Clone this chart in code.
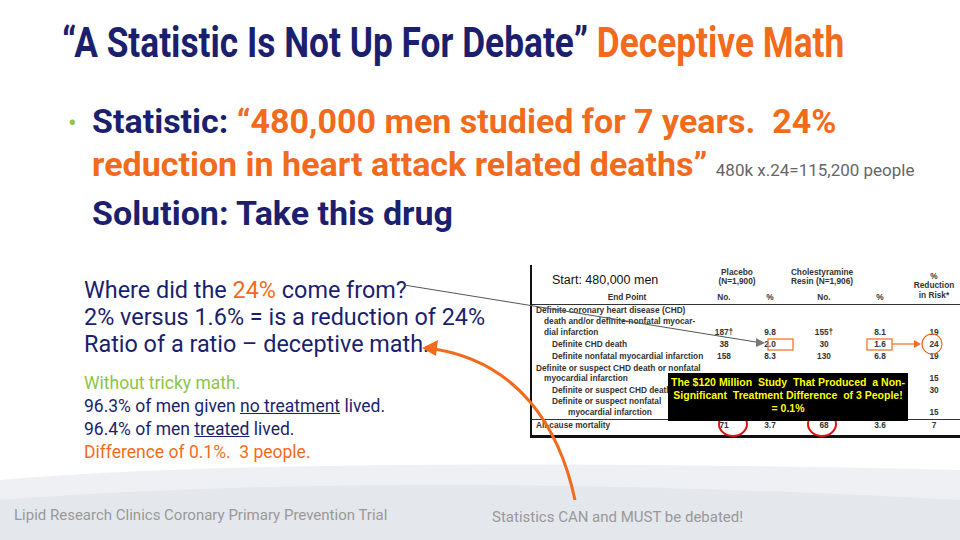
<!DOCTYPE html>
<html><head><meta charset="utf-8">
<script src="https://cdn.jsdelivr.net/npm/chart.js"></script>
<style>
body{margin:0;width:960px;height:540px;overflow:hidden;background:#fff;font-family:"Roboto",sans-serif;position:relative}
.a{position:absolute;white-space:nowrap}
.navy{color:#1b1f6e}.org{color:#f26b1d}.grn{color:#8dc63f}
#tbl{position:absolute;left:530px;top:265px;width:428px;height:170px;border-left:2px solid #111;border-right:2px solid #111;border-bottom:3px solid #111;font-family:"Liberation Sans",Arial,sans-serif;color:#222;background:#fff}
#tbl .a{font-size:8.3px;font-weight:bold;color:#333}
.c{transform:translateX(-50%)}
</style></head><body>
<svg class="a" style="left:0;top:0" width="960" height="540">
<path d="M0 480 Q300 455 960 470 L960 540 L0 540 Z" fill="#eef0f3"/>
<path d="M0 500 Q400 470 960 500 L960 540 L0 540Z" fill="#e4e7ec"/>
</svg>
<div class="a navy" style="left:62px;top:18px;font-size:42px;font-weight:bold;transform:scaleX(0.84);transform-origin:left top">“A Statistic Is Not Up For Debate” <span class="org">Deceptive Math</span></div>
<div class="a grn" style="left:68px;top:108px;font-size:26px">•</div>
<div class="a navy" style="left:92px;top:100px;font-size:34px;font-weight:bold;line-height:43px">Statistic: <span class="org">“480,000 men studied for 7 years.&nbsp; 24%</span><br><span class="org">reduction in heart attack related deaths”</span> <span style="font-size:17px;color:#666;font-weight:normal">480k x.24=115,200 people</span><br>Solution: Take this drug</div>
<div class="a navy" style="left:84px;top:277px;font-size:23.4px;line-height:27px">Where did the <span class="org">24%</span> come from?<br>2% versus 1.6% = is a reduction of 24%<br>Ratio of a ratio – deceptive math.</div>
<div class="a navy" style="left:84px;top:372px;font-size:17.5px;line-height:23px"><span class="grn">Without tricky math.</span><br>96.3% of men given <u>no treatment</u> lived.<br>96.4% of men <u>treated</u> lived.<br><span class="org">Difference of 0.1%.&nbsp; 3 people.</span></div>
<div class="a" style="left:14px;top:506px;font-size:15px;color:#999">Lipid Research Clinics Coronary Primary Prevention Trial</div>
<div class="a" style="left:492px;top:508px;font-size:15px;color:#999">Statistics CAN and MUST be debated!</div>
<div id="tbl"></div>
<svg class="a" style="left:0;top:0" width="960" height="540" id="ov">
<line x1="404" y1="285" x2="762" y2="343" stroke="#555" stroke-width="1"/>
<polygon points="765,343 756,338 756,347" fill="#777"/>
<path d="M575 500 C560 430 520 360 428 348" fill="none" stroke="#f26b1d" stroke-width="3"/>
<polygon points="422,348 438,340 436,356" fill="#f26b1d"/>
<rect x="768" y="339" width="25" height="11" fill="none" stroke="#f26b1d" stroke-width="1.2"/>
<rect x="867" y="339" width="25" height="11" fill="none" stroke="#f26b1d" stroke-width="1.2"/>
<line x1="892" y1="344" x2="916" y2="344" stroke="#f26b1d" stroke-width="1.2"/>
<polygon points="921,344 914,340 914,348" fill="#f26b1d"/>
<circle cx="932" cy="344" r="10" fill="none" stroke="#f26b1d" stroke-width="1.2"/>
<ellipse cx="733" cy="424" rx="14" ry="12" fill="none" stroke="#e01010" stroke-width="2"/>
<ellipse cx="822" cy="424" rx="14" ry="12" fill="none" stroke="#e01010" stroke-width="2"/>
</svg>
<div class="a" style="left:668px;top:373px;width:240px;height:45px;background:#000;color:#ff0;font-family:'Liberation Sans',Arial;font-weight:bold;font-size:10.5px;text-align:center;line-height:13px;padding-top:3px;white-space:normal">The $120 Million&nbsp; Study&nbsp; That Produced&nbsp; a Non-Significant&nbsp; Treatment Difference&nbsp; of 3 People!<br>= 0.1%</div>
<script>
const endPoints = ['Definite coronary heart disease (CHD)','  death and/or definite-nonfatal myocar-','  dial infarction','    Definite CHD death','    Definite nonfatal myocardial infarction','Definite or suspect CHD death or nonfatal','  myocardial infarction','    Definite or suspect CHD death','    Definite or suspect nonfatal','        myocardial infarction','All-cause mortality'];
const placeboNo = ['','','187†','38','158','','','','','','71'];
const placeboPct = ['','','9.8','2.0','8.3','','','','','','3.7'];
const resinNo = ['','','155†','30','130','','','','','','68'];
const resinPct = ['','','8.1','1.6','6.8','','','','','','3.6'];
const reduction = ['','','19','24','19','','15','30','','15','7'];
const t = document.getElementById('tbl');
function put(x, y, s, extra) {
  const d = document.createElement('div');
  d.className = 'a' + (extra || '');
  d.style.left = x + 'px'; d.style.top = y + 'px';
  d.textContent = s; t.appendChild(d);
}
put(20, 8, 'Start: 480,000 men'); t.lastChild.style.cssText += 'font-size:12.5px;font-weight:normal;color:#111';
put(205, 2, 'Placebo', ' c'); put(205, 11, '(N=1,900)', ' c');
put(290, 2, 'Cholestyramine', ' c'); put(290, 11, 'Resin (N=1,906)', ' c');
put(402, 6, '%', ' c'); put(402, 15, 'Reduction', ' c'); put(402, 25, 'in Risk*', ' c');
put(95, 27, 'End Point', ' c'); put(192, 27, 'No.', ' c'); put(238, 27, '%', ' c'); put(292, 27, 'No.', ' c'); put(348, 27, '%', ' c');
const rowY = [40, 51, 62, 74, 86, 98, 108, 120, 131, 142, 155];
endPoints.forEach((s, i) => {
  put(4 + (s.length - s.trimStart().length) * 4, rowY[i], s.trim());
  if (placeboNo[i]) put(192, rowY[i], placeboNo[i], ' c');
  if (placeboPct[i]) put(238, rowY[i], placeboPct[i], ' c');
  if (resinNo[i]) put(292, rowY[i], resinNo[i], ' c');
  if (resinPct[i]) put(348, rowY[i], resinPct[i], ' c');
  if (reduction[i]) put(402, rowY[i], reduction[i], ' c');
});
const ln = document.createElement('div');
ln.className = 'a'; ln.style.cssText = 'left:0;top:39px;width:428px;border-top:1px solid #333';
t.appendChild(ln);
const ln2 = ln.cloneNode(); ln2.style.top = '154px'; t.appendChild(ln2);
</script>
</body></html>
